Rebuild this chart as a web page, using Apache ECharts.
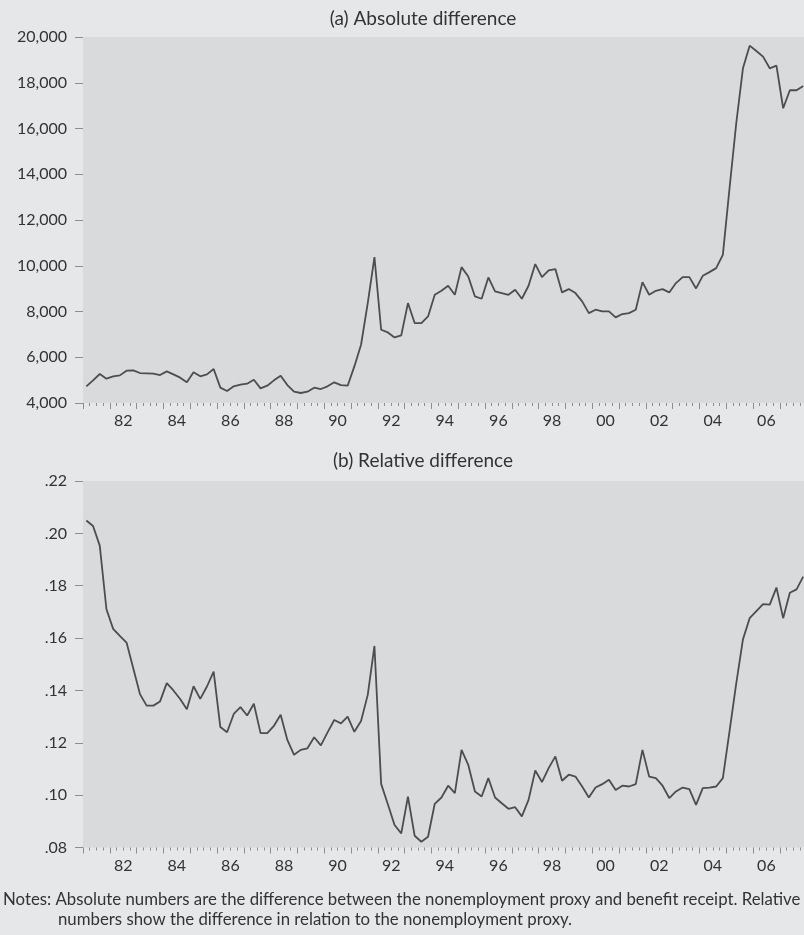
<!DOCTYPE html>
<html>
<head>
<meta charset="utf-8">
<script src="https://cdn.jsdelivr.net/npm/echarts@6/dist/echarts.min.js"></script>
<style>
  html, body { margin: 0; padding: 0; background: #e6e7e9; }
  #chart { width: 804px; height: 935px; }
</style>
</head>
<body>
<div id="chart"></div>
<script>
// Quarterly observations 1981Q1 - 2007Q4
const firstYear = 1981;
const lastYear = 2007;
const quarters = [];
for (let y = firstYear; y <= lastYear; y++) for (let q = 1; q <= 4; q++) quarters.push(y + 'Q' + q);

// (a) Absolute difference
const absDiff = [
  4730, 4990, 5267, 5063,
  5165, 5208, 5412, 5427,
  5310, 5296, 5281, 5223,
  5383, 5252, 5107, 4903,
  5340, 5165, 5252, 5485,
  4670, 4524, 4728, 4800,
  4845, 5019, 4640, 4757,
  4990, 5194, 4786, 4495,
  4437, 4495, 4670, 4611,
  4728, 4903, 4785, 4756,
  5600, 6547, 8368, 10377,
  7202, 7085, 6867, 6955,
  8368, 7494, 7494, 7785,
  8732, 8907, 9125, 8732,
  9940, 9533, 8659, 8557,
  9489, 8878, 8805, 8732,
  8950, 8557, 9125, 10072,
  9504, 9795, 9853, 8834,
  8980, 8805, 8441, 7931,
  8077, 8004, 8004, 7742,
  7888, 7931, 8077, 9285,
  8732, 8907, 8980, 8834,
  9242, 9504, 9504, 9009,
  9560, 9722, 9896, 10478,
  13400, 16230, 18632, 19621,
  19388, 19140, 18632, 18747,
  16885, 17672, 17672, 17860
];

// (b) Relative difference
const relDiff = [
  .2049, .2028, .1953, .1710,
  .1635, .1608, .1583, .1485,
  .1386, .1342, .1342, .1358,
  .1428, .1400, .1367, .1328,
  .1416, .1368, .1415, .1472,
  .1260, .1240, .1310, .1336,
  .1304, .1349, .1237, .1237,
  .1265, .1307, .1211, .1154,
  .1173, .1179, .1221, .1190,
  .1240, .1287, .1274, .1300,
  .1242, .1283, .1383, .1570,
  .1043, .0965, .0886, .0854,
  .0994, .0845, .0822, .0841,
  .0967, .0991, .1036, .1008,
  .1173, .1116, .1014, .0995,
  .1065, .0991, .0969, .0948,
  .0954, .0919, .0982, .1094,
  .1050, .1103, .1148, .1055,
  .1078, .1071, .1033, .0991,
  .1029, .1042, .1059, .1020,
  .1036, .1033, .1042, .1173,
  .1071, .1065, .1036, .0989,
  .1014, .1029, .1023, .0963,
  .1027, .1029, .1033, .1065,
  .1245, .1427, .1595, .1676,
  .1703, .1730, .1728, .1793,
  .1676, .1773, .1786, .1835
];

const absTicks = [4000, 20000, 2000];
const relTicks = [0.08, 0.22, 0.02];
const titles = ['(a) Absolute difference', '(b) Relative difference'];
const notes = [
  'Notes: Absolute numbers are the difference between the nonemployment proxy and benefit receipt. Relative',
  'numbers show the difference in relation to the nonemployment proxy.'
];

function qToYear(s) {
  const y = parseInt(s.slice(0, 4), 10);
  const q = parseInt(s.slice(5), 10);
  return y + (q - 0.5) / 4;
}
const absData = quarters.map((q, i) => [qToYear(q), absDiff[i]]);
const relData = quarters.map((q, i) => [qToYear(q), relDiff[i]]);

const FONT = 'Lato';
const textColor = '#333333';
const tickColor = '#8e8e8e';
const xMin = firstYear, xMax = lastYear + 1;

function tickAxis(grid) {
  return {
    type: 'value', gridIndex: grid, position: 'bottom', min: xMin, max: xMax, interval: 1,
    axisLine: { show: false },
    axisTick: { show: true, length: 6, lineStyle: { color: tickColor, width: 1 } },
    minorTick: { show: true, splitNumber: 4, length: 3, lineStyle: { color: tickColor, width: 1 } },
    axisLabel: { show: false },
    splitLine: { show: false }, minorSplitLine: { show: false }
  };
}
function labelAxis(grid) {
  return {
    type: 'value', gridIndex: grid, position: 'bottom', min: xMin, max: xMax, interval: 0.5,
    axisLine: { show: false }, axisTick: { show: false }, splitLine: { show: false },
    axisLabel: {
      show: true, margin: 10, color: textColor, fontFamily: FONT, fontSize: 16,
      showMinLabel: true, showMaxLabel: true,
      formatter: function (v) {
        const fy = Math.floor(v + 1e-9);
        const frac = v - fy;
        if (Math.abs(frac - 0.5) < 1e-6 && fy % 2 === 0) return String(fy % 100).padStart(2, '0');
        return '';
      }
    }
  };
}
function yAxis(grid, t, fmt) {
  return {
    type: 'value', gridIndex: grid, min: t[0], max: t[1], interval: t[2],
    axisLine: { show: false },
    axisTick: { show: true, length: 8, lineStyle: { color: tickColor, width: 1 } },
    splitLine: { show: false },
    axisLabel: { margin: 16, color: textColor, fontFamily: FONT, fontSize: 16, formatter: fmt }
  };
}

const chart = echarts.init(document.getElementById('chart'), null, { renderer: 'canvas' });
const gridW = (xMax - xMin) * 26.8;
chart.setOption({
  backgroundColor: '#e6e7e9',
  animation: false,
  title: [
    { text: titles[0], left: 418, top: 4, textAlign: 'center',
      textStyle: { fontFamily: FONT, fontSize: 19, fontWeight: 'normal', color: textColor } },
    { text: titles[1], left: 418, top: 446, textAlign: 'center',
      textStyle: { fontFamily: FONT, fontSize: 19, fontWeight: 'normal', color: textColor } }
  ],
  grid: [
    { left: 83, top: 37, width: gridW, height: 366, show: true, backgroundColor: '#d9dadc', borderWidth: 0,
      containLabel: false, outerBoundsMode: 'none' },
    { left: 83, top: 481, width: gridW, height: 366.5, show: true, backgroundColor: '#d9dadc', borderWidth: 0,
      containLabel: false, outerBoundsMode: 'none' }
  ],
  xAxis: [tickAxis(0), labelAxis(0), tickAxis(1), labelAxis(1)],
  yAxis: [
    yAxis(0, absTicks, v => v.toLocaleString('en-US')),
    yAxis(1, relTicks, v => v.toFixed(2).replace(/^0/, ''))
  ],
  series: [
    { type: 'line', xAxisIndex: 0, yAxisIndex: 0, data: absData, showSymbol: false,
      lineStyle: { color: '#4d4d4f', width: 1.8 }, clip: true },
    { type: 'line', xAxisIndex: 2, yAxisIndex: 1, data: relData, showSymbol: false,
      lineStyle: { color: '#4d4d4f', width: 1.8 }, clip: true }
  ],
  graphic: [
    { type: 'text', left: 3, top: 891, style: { text: notes[0], fontFamily: FONT, fontSize: 16.8, fill: textColor } },
    { type: 'text', left: 58, top: 911, style: { text: notes[1], fontFamily: FONT, fontSize: 16.8, fill: textColor } }
  ]
});
</script>
</body>
</html>
